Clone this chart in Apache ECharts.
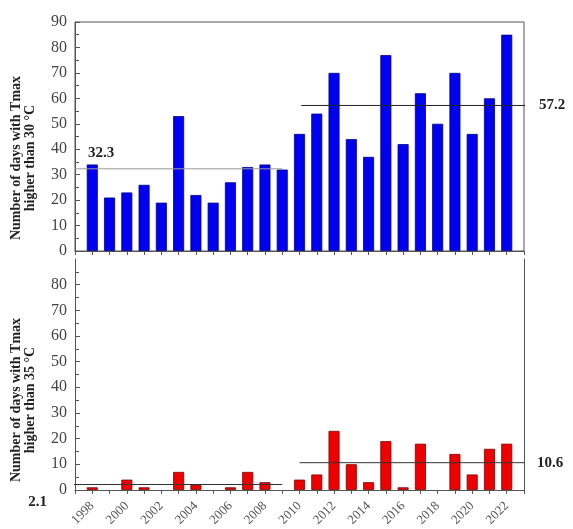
<!DOCTYPE html>
<html>
<head>
<meta charset="utf-8">
<script src="https://cdn.jsdelivr.net/npm/echarts@6/dist/echarts.min.js"></script>
<style>html,body{margin:0;padding:0;background:#fff}#c{width:573px;height:529px}</style>
</head>
<body>
<div id="c"></div>
<script>
// ---- data ----
var years = [1998,1999,2000,2001,2002,2003,2004,2005,2006,2007,2008,2009,2010,2011,2012,2013,2014,2015,2016,2017,2018,2019,2020,2021,2022];
var days30 = [34,21,23,26,19,53,22,19,27,33,34,32,46,54,70,44,37,77,42,62,50,70,46,60,85];
var days35 = [1,0,4,1,0,7,2,0,1,7,3,0,4,6,23,10,3,19,1,18,0,14,6,16,18];
var yTicksTop = [0,10,20,30,40,50,60,70,80,90];
var yTicksBottom = [0,10,20,30,40,50,60,70,80];
// period means: [value, fromYear, toYear]
var mean30Early = [32.3, 1997, 2009];
var mean30Late = [57.2, 2010.1, 2023.6];
var mean35Early = [2.1, 1995.3, 2009];
var mean35Late = [10.6, 2010, 2023.5];
var title30 = 'Number of days with Tmax\nhigher than 30 °C';
var title35 = 'Number of days with Tmax\nhigher than 35 °C';

var serif = "'Liberation Serif', 'DejaVu Serif', serif";
var chart = echarts.init(document.getElementById('c'), null, {renderer: 'canvas'});

function pairs(vals) {
  return years.map(function (y, i) {
    var item = {value: [y, vals[i]]};
    if (vals[i] === 0) item.itemStyle = {borderWidth: 0, opacity: 0};
    return item;
  });
}

function xAxisCfg(grid, showLabels) {
  return {
    type: 'value', gridIndex: grid, min: 1997, max: 2023, interval: 1,
    axisLine: {show: true, onZero: false, lineStyle: {color: '#555', width: 1}},
    axisTick: {show: true, inside: false, length: 4, lineStyle: {color: '#555'}},
    splitLine: {show: false},
    axisLabel: showLabels ? {
      show: true, rotate: 45, margin: 14, color: '#555', fontFamily: serif, fontSize: 13,
      formatter: function (v) { return v % 2 === 0 ? String(v) : ''; }
    } : {show: false}
  };
}

function yAxisCfg(grid, ticks) {
  return {
    type: 'value', gridIndex: grid, min: 0, max: 90, interval: 10,
    axisLine: {show: true, lineStyle: {color: '#555', width: 1}},
    axisTick: {show: true, inside: true, length: 5, customValues: ticks, lineStyle: {color: '#555'}},
    minorTick: {show: true, splitNumber: 2, length: 4, lineStyle: {color: '#555'}},
    splitLine: {show: false},
    axisLabel: {show: true, margin: 8, color: '#444', fontFamily: serif, fontSize: 16, customValues: ticks}
  };
}

function meanLine(m, xi, yi, color, labelMode, dist) {
  var d0 = {value: [m[1], m[0]]};
  var d1 = {value: [m[2], m[0]]};
  var s = {
    type: 'line', xAxisIndex: xi, yAxisIndex: yi, clip: false, symbol: 'none', silent: true,
    lineStyle: {color: color, width: 1}, z: 5,
    data: [d0, d1]
  };
  var lblStyle = {fontFamily: serif, fontSize: 15, fontWeight: 'bold', color: '#222'};
  if (labelMode === 'end') {
    s.endLabel = Object.assign({show: true, distance: dist, formatter: String(m[0])}, lblStyle);
  } else if (labelMode === 'top') {
    d0.label = Object.assign({show: true, position: 'top', offset: [26, -3], formatter: String(m[0])}, lblStyle);
    s.symbol = 'circle'; s.symbolSize = 0.01;
  } else if (labelMode === 'bottom') {
    d0.label = Object.assign({show: true, position: 'bottom', offset: [-8, 5], formatter: String(m[0])}, lblStyle);
    s.symbol = 'circle'; s.symbolSize = 0.01;
  }
  return s;
}

var option = {
  animation: false,
  backgroundColor: '#fff',
  grid: [
    {left: 75, top: 22, width: 449, height: 229, show: true, borderColor: '#555', borderWidth: 1, backgroundColor: 'transparent'},
    {left: 75, top: 259, width: 449, height: 231}
  ],
  xAxis: [xAxisCfg(0, false), xAxisCfg(1, true)],
  yAxis: [
    yAxisCfg(0, yTicksTop),
    yAxisCfg(1, yTicksBottom),
    {type: 'value', gridIndex: 1, position: 'right', min: 0, max: 90,
     axisLine: {show: true, lineStyle: {color: '#555'}}, axisTick: {show: false}, axisLabel: {show: false}, splitLine: {show: false}}
  ],
  graphic: [
    {type: 'text', x: 23, y: 158, rotation: Math.PI / 2,
     style: {text: title30, textAlign: 'center', textVerticalAlign: 'middle', font: "bold 14px 'Liberation Serif'", fill: '#222', lineHeight: 14}},
    {type: 'text', x: 23, y: 400, rotation: Math.PI / 2,
     style: {text: title35, textAlign: 'center', textVerticalAlign: 'middle', font: "bold 14px 'Liberation Serif'", fill: '#222', lineHeight: 14}}
  ],
  series: [
    {type: 'bar', xAxisIndex: 0, yAxisIndex: 0, barWidth: 11, data: pairs(days30),
     itemStyle: {color: '#0000F0', borderColor: '#00008B', borderWidth: 0.8}},
    {type: 'bar', xAxisIndex: 1, yAxisIndex: 1, barWidth: 11, data: pairs(days35),
     itemStyle: {color: '#EE0000', borderColor: '#800000', borderWidth: 0.8}},
    meanLine(mean30Early, 0, 0, '#999', 'top'),
    meanLine(mean30Late, 0, 0, '#222', 'end', 14),
    meanLine(mean35Early, 1, 1, '#333', 'bottom'),
    meanLine(mean35Late, 1, 1, '#333', 'end', 12)
  ]
};
chart.setOption(option);
</script>
</body>
</html>
